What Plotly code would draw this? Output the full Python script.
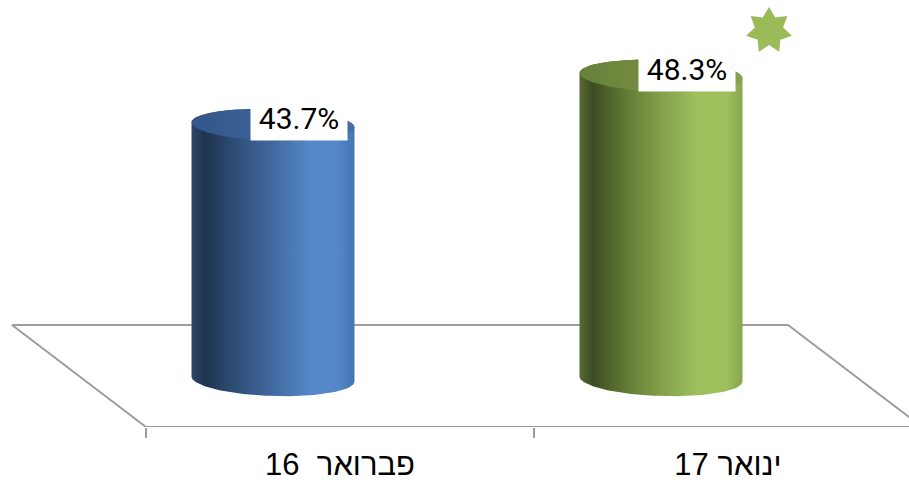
import numpy as np
import plotly.graph_objects as go

# ---------------- data ----------------
categories = ["פברואר\u00a0 16", "ינואר 17"]
values = [43.7, 48.3]
value_labels = ["43.7%", "48.3%"]

# ---------------- style / geometry ----------------
W, H = 909, 482
PX_PER_CAT = 388.0       # pixels per category unit
CAT0_PX = 340.0          # pixel x of first category (front edge)
AXIS_MIN = 20.0          # value axis minimum (floor level)
PX_PER_VAL = 10.72       # pixels per value unit
FLOOR_PX = 427.0         # pixel y of the floor front edge
FLOOR_DEPTH_PX = (-134.0, 102.0)   # front->back offset of the floor
BAR_DEPTH_PX = (-67.0, 48.0)       # front->bar centre offset
BAR_RX_PX = 81.5
BAR_RY_TOP_PX = 16.0
BAR_RY_BOT_PX = 17.0
BAR_SHEAR_PX = 2.5

def dx(px):
    return px / PX_PER_CAT

def dy(px):
    return px / PX_PER_VAL

body_scales = [
    [[0.0, "#2c4767"], [0.08, "#1f334f"], [0.3, "#31527c"], [0.5, "#41699f"],
     [0.72, "#5487c6"], [0.9, "#5387c7"], [1.0, "#4574b0"]],
    [[0.0, "#566a30"], [0.08, "#3e4c23"], [0.3, "#647d36"], [0.5, "#84a04b"],
     [0.72, "#9dbf5c"], [0.9, "#9ec05d"], [1.0, "#88a64f"]],
]
top_scales = [
    [[0.0, "#34568a"], [0.5, "#3d6497"], [1.0, "#456fa4"]],
    [[0.0, "#68813a"], [0.5, "#768f42"], [1.0, "#85a24e"]],
]
STAR_COLOR = "#9bbb59"
FLOOR_COLOR = "#9d9d9d"

fig = go.Figure()

# ---------------- floor ----------------
n = len(categories)
fdx, fdy = dx(FLOOR_DEPTH_PX[0]), dy(FLOOR_DEPTH_PX[1])
x_left, x_right = -0.5, n - 0.5
floor_x = [x_left + fdx, x_right + fdx, x_right, x_left, x_left + fdx]
floor_y = [AXIS_MIN + fdy, AXIS_MIN + fdy, AXIS_MIN, AXIS_MIN, AXIS_MIN + fdy]
fig.add_trace(go.Scatter(x=floor_x, y=floor_y, mode="lines",
                         line=dict(color=FLOOR_COLOR, width=2),
                         hoverinfo="skip", showlegend=False))

# ---------------- cylinders ----------------
bdx, bdy = dx(BAR_DEPTH_PX[0]), dy(BAR_DEPTH_PX[1])
rx = dx(BAR_RX_PX)
ry_t, ry_b = dy(BAR_RY_TOP_PX), dy(BAR_RY_BOT_PX)
sh = dy(BAR_SHEAR_PX)

def ellipse(cx, cy, ry, t):
    return cx + rx * np.cos(t), cy - ry * np.sin(t) - sh * np.cos(t)

for i, v in enumerate(values):
    cx = i + bdx
    yb = AXIS_MIN + bdy
    yt = v + bdy
    # body: bottom front arc (left->right), then top back arc (right->left)
    t1 = np.linspace(np.pi, 0, 80)
    bx, by = ellipse(cx, yb, ry_b, t1)
    t2 = np.linspace(0, -np.pi, 80)
    tx, ty = ellipse(cx, yt, ry_t, t2)
    xs = np.concatenate([bx, tx, bx[:1]])
    ys = np.concatenate([by, ty, by[:1]])
    fig.add_trace(go.Scatter(x=xs, y=ys, mode="lines", fill="toself",
                             line=dict(width=0, color="rgba(0,0,0,0)"),
                             fillgradient=dict(type="horizontal", colorscale=body_scales[i]),
                             hoverinfo="skip", showlegend=False))
    # top face
    t3 = np.linspace(0, 2 * np.pi, 160)
    ex, ey = ellipse(cx, yt, ry_t, t3)
    fig.add_trace(go.Scatter(x=ex, y=ey, mode="lines", fill="toself",
                             line=dict(width=0, color="rgba(0,0,0,0)"),
                             fillgradient=dict(type="horizontal", colorscale=top_scales[i]),
                             hoverinfo="skip", showlegend=False))
    fig.add_annotation(x=cx, y=yt, xref="x", yref="y", text=value_labels[i],
                       showarrow=False, xshift=26, yshift=7,
                       font=dict(family="Roboto, Liberation Sans, sans-serif", size=30, color="#000000"),
                       bgcolor="#ffffff", width=96, height=44, borderpad=0)

# ---------------- star marking the highest bar ----------------
imax = int(np.argmax(values))
STAR_OFF_PX = (108.0, 45.0)
STAR_R_PX, STAR_r_PX = 23.5, 14.5
scx = imax + bdx + dx(STAR_OFF_PX[0])
scy = values[imax] + bdy + dy(STAR_OFF_PX[1])
ang = np.pi / 2 + np.arange(14) * np.pi / 7
rad = np.where(np.arange(14) % 2 == 0, STAR_R_PX, STAR_r_PX)
sx = scx + dx(rad * np.cos(ang))
sy = scy + dy(rad * np.sin(ang))
fig.add_trace(go.Scatter(x=np.append(sx, sx[0]), y=np.append(sy, sy[0]),
                         mode="lines", fill="toself", fillcolor=STAR_COLOR,
                         line=dict(width=0, color=STAR_COLOR),
                         hoverinfo="skip", showlegend=False))

# ---------------- layout ----------------
fig.update_layout(
    width=W, height=H,
    margin=dict(l=0, r=0, t=0, b=H - FLOOR_PX),
    paper_bgcolor="#ffffff", plot_bgcolor="#ffffff",
    showlegend=False,
    xaxis=dict(range=[-CAT0_PX / PX_PER_CAT, (W - CAT0_PX) / PX_PER_CAT],
               tickvals=list(range(n)), ticktext=categories,
               tickfont=dict(family="Liberation Sans, Arial, sans-serif", size=31, color="#000000"),
               ticks="", showgrid=False, zeroline=False, showline=False,
               ticklabelstandoff=16,
               minor=dict(tickvals=[k - 0.5 for k in range(n)], ticks="outside",
                          ticklen=10, tickwidth=1.5, tickcolor=FLOOR_COLOR, showgrid=False),
               fixedrange=True),
    yaxis=dict(range=[AXIS_MIN, AXIS_MIN + FLOOR_PX / PX_PER_VAL], visible=False,
               showgrid=False, zeroline=False, fixedrange=True),
)

fig.write_html("out.html", config={"displayModeBar": False},
               post_script="document.body.style.margin='0';document.body.style.overflow='hidden';")
